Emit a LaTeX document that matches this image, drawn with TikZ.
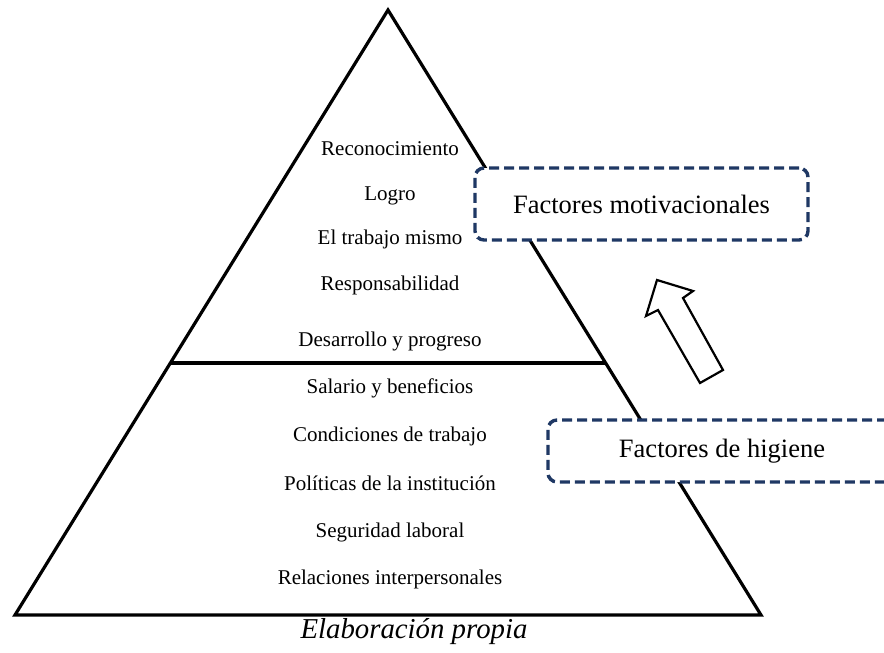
\documentclass[tikz,border=0pt]{standalone}
\usepackage{fontspec}
\setmainfont{Liberation Serif}
\definecolor{navy}{HTML}{1F3864}
\tikzset{
  pyr/.style={line width=3.2pt, black},
  lbl/.style={font=\fontsize{21}{25}\selectfont, inner sep=0pt, anchor=base},
  fbox/.style={draw=navy, fill=white, line width=3.4pt, dash pattern=on 10pt off 5pt, rounded corners=9pt,
    font=\fontsize{26.5}{30}\selectfont, inner sep=0pt},
  bigarrow/.style={draw=black, fill=white, line width=2.2pt, line join=miter}
}
\begin{document}
\begin{tikzpicture}[x=1pt,y=-1pt]
\useasboundingbox (0,0) rectangle (884,653);
\clip (0,0) rectangle (884,653);
% pyramid
\coordinate (apex) at (388,10);
\coordinate (bl) at (15,615);
\coordinate (br) at (761,615);
\coordinate (dl) at (171,363);
\coordinate (dr) at (605,363);
\draw[pyr, line join=miter] (bl) -- (apex) -- (br) -- cycle;
\draw[pyr] (dl) -- (dr);
% labels
\node[lbl] (t1) at (390,155) {Reconocimiento};
\node[lbl] (t2) at (390,200) {Logro};
\node[lbl] (t3) at (390,244) {El trabajo mismo};
\node[lbl] (t4) at (390,290) {Responsabilidad};
\node[lbl] (t5) at (390,346) {Desarrollo y progreso};
\node[lbl] (t6) at (390,393) {Salario y beneficios};
\node[lbl] (t7) at (390,441) {Condiciones de trabajo};
\node[lbl] (t8) at (390,490) {Políticas de la institución};
\node[lbl] (t9) at (390,537) {Seguridad laboral};
\node[lbl] (t10) at (390,584) {Relaciones interpersonales};
\node[inner sep=0pt, anchor=base, font=\fontsize{28.8}{32}\selectfont\itshape] (cap) at (414,638) {Elaboración propia};
% boxes
\node[fbox, minimum width=333pt, minimum height=72pt] (mot) at (641.5,204) {Factores motivacionales};
\node[fbox, minimum width=348pt, minimum height=62pt] (hig) at (722,451) {Factores de higiene};
% arrow
\draw[bigarrow] (657,280) -- (693,291) -- (683,298) -- (723,370) -- (700,383) -- (658,310) -- (646,316) -- cycle;
\end{tikzpicture}
\end{document}
